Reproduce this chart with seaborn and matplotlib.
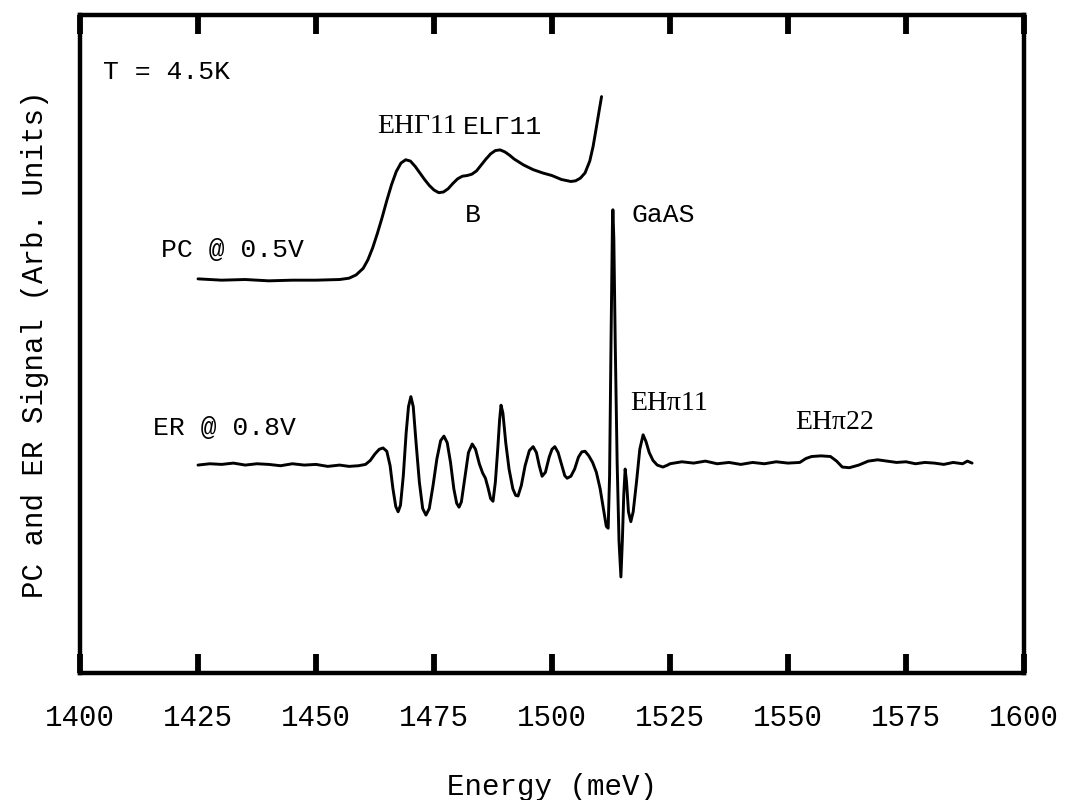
import matplotlib
matplotlib.use("Agg")
import matplotlib.pyplot as plt
import seaborn as sns
import pandas as pd

# ---------------- data ----------------
pc_energy = [1425, 1430, 1435, 1440, 1445, 1450, 1455, 1457, 1458.5, 1460, 1461,
             1462, 1463, 1464, 1465, 1466, 1467, 1468, 1469, 1470, 1471, 1472,
             1473, 1474, 1475, 1476, 1477, 1478, 1479, 1480, 1481, 1482, 1483,
             1484, 1485, 1486, 1487, 1488, 1489, 1490, 1491, 1492, 1494, 1496,
             1498, 1500, 1502, 1504, 1505, 1506, 1507, 1508, 1508.7, 1509.3,
             1510, 1510.5]
pc_signal = [59.9, 59.7, 59.8, 59.6, 59.7, 59.7, 59.8, 60.0, 60.5, 61.5, 62.8,
             64.6, 66.8, 69.2, 71.8, 74.2, 76.2, 77.5, 78.0, 77.8, 77.0, 76.0,
             75.0, 74.1, 73.4, 73.0, 73.1, 73.6, 74.4, 75.1, 75.5, 75.6, 75.8,
             76.3, 77.2, 78.1, 78.9, 79.4, 79.5, 79.2, 78.7, 78.1, 77.2, 76.5,
             76.0, 75.6, 75.0, 74.7, 74.8, 75.2, 76.0, 77.8, 80.0, 82.5,
             85.5, 87.6]

er_energy = [1425, 1427.5, 1430, 1432.5, 1435, 1437.5, 1440, 1442.5, 1445, 1447.5,
             1450, 1452.5, 1455, 1457, 1459, 1460.5, 1461.5, 1462.5, 1463.4, 1464.2,
             1465.0, 1465.7, 1466.3, 1466.9, 1467.4, 1467.9, 1468.5, 1469.1, 1469.6,
             1470.1, 1470.6, 1471.2, 1471.9, 1472.6, 1473.3, 1474.0, 1474.8, 1475.6,
             1476.4, 1477.1, 1477.8, 1478.5, 1479.2, 1479.8, 1480.3, 1480.8, 1481.5,
             1482.3, 1483.1, 1483.8, 1484.6, 1485.3, 1485.9, 1486.5, 1487.0, 1487.5,
             1488.0, 1488.5, 1488.9, 1489.2, 1489.6, 1490.2, 1490.9, 1491.7, 1492.3,
             1492.8, 1493.5, 1494.3, 1495.2, 1496.0, 1496.7, 1497.3, 1497.9, 1498.6,
             1499.4, 1500.0, 1500.6, 1501.3, 1502.1, 1502.7, 1503.2, 1504.0, 1504.8,
             1505.6, 1506.3, 1507.0, 1507.8, 1508.6, 1509.4, 1510.2, 1511.0, 1511.5,
             1511.9, 1512.2, 1512.5, 1512.8, 1512.9, 1513.1, 1513.4, 1513.8, 1514.2,
             1514.6, 1514.9, 1515.2, 1515.5, 1515.8, 1516.2, 1516.7, 1517.2, 1517.9,
             1518.6, 1519.3, 1519.9, 1520.6, 1521.4, 1522.3, 1523.5, 1524.5, 1525,
             1527.5, 1530, 1532.5, 1535, 1537.5, 1540, 1542.5, 1545, 1547.5, 1550,
             1552.5, 1553.8, 1555, 1557, 1559, 1560.3, 1561.5, 1563, 1565, 1567,
             1569, 1571, 1573, 1575, 1577, 1579, 1581, 1583, 1585, 1587, 1588, 1589]
er_signal = [31.6, 31.8, 31.7, 31.9, 31.6, 31.8, 31.7, 31.5, 31.8, 31.6,
             31.7, 31.4, 31.6, 31.4, 31.5, 31.7, 32.3, 33.3, 34.0, 34.2,
             33.7, 31.5, 28.0, 25.3, 24.5, 25.5, 30.0, 36.5, 40.5,
             42.0, 40.5, 35.0, 29.0, 25.0, 24.0, 25.0, 28.5, 32.5,
             35.3, 36.0, 35.0, 32.0, 28.0, 25.8, 25.2, 26.0, 29.5,
             33.5, 34.8, 34.0, 31.8, 30.4, 29.6, 28.0, 26.5, 26.1,
             29.0, 34.0, 38.5, 40.7, 39.5, 35.0, 31.0, 28.0, 27.0,
             26.9, 28.5, 31.5, 33.8, 34.4, 33.5, 31.5, 29.9, 30.5,
             32.8, 34.0, 34.4, 33.5, 31.5, 30.0, 29.6, 29.9, 31.0,
             32.8, 33.6, 33.7, 33.0, 32.0, 30.5, 28.0, 24.5, 22.3,
             22.0, 30.0, 50.0, 68.0, 70.4, 66.0, 50.0, 32.0, 20.0,
             14.6, 20.0, 27.0, 31.0, 29.0, 24.5, 23.0, 24.5, 29.0,
             34.0, 36.2, 35.2, 33.5, 32.3, 31.6, 31.3, 31.6, 31.8,
             32.1, 31.9, 32.2, 31.8, 32.0, 31.7, 32.0, 31.8, 32.1, 31.9,
             32.0, 32.6, 32.9, 33.0, 32.9, 32.2, 31.3, 31.2, 31.6, 32.2,
             32.4, 32.2, 32.0, 32.1, 31.8, 32.0, 31.9, 31.7, 32.0, 31.8, 32.2, 31.9]

x_ticks = [1400, 1425, 1450, 1475, 1500, 1525, 1550, 1575, 1600]

annotations = [
    ("T = 4.5K", 1404.9, 91.4, "mono", "left"),
    ("PC @ 0.5V", 1417.2, 64.3, "mono", "left"),
    ("ER @ 0.8V", 1415.5, 37.2, "mono", "left"),
    ("EH\u039311", 1462.9, 83.0, "serif", "left"),
    ("EL\u039311", 1481.1, 83.0, "mono", "left"),
    ("B", 1483.3, 69.6, "mono", "center"),
    ("GaAS", 1516.9, 69.6, "mono", "left"),
    ("EH\u03c011", 1516.5, 41.0, "serif", "left"),
    ("EH\u03c022", 1551.5, 38.0, "serif", "left"),
]

# ---------------- plot ----------------
sns.set_theme(style="white")
plt.rcParams["font.family"] = ["Liberation Mono", "DejaVu Sans Mono", "DejaVu Sans"]

fig = plt.figure(figsize=(10.73, 8.0), dpi=100)
ax = fig.add_axes([80 / 1073, 1 - 673 / 800, (1024 - 80) / 1073, (673 - 15) / 800])

pc_df = pd.DataFrame({"Energy": pc_energy, "Signal": pc_signal})
er_df = pd.DataFrame({"Energy": er_energy, "Signal": er_signal})
sns.lineplot(data=pc_df, x="Energy", y="Signal", ax=ax, color="black",
             linewidth=2.1, sort=False, estimator=None)
sns.lineplot(data=er_df, x="Energy", y="Signal", ax=ax, color="black",
             linewidth=2.1, sort=False, estimator=None)

ax.set_xlim(1400, 1600)
ax.set_ylim(0, 100)
ax.set_xticks(x_ticks)
ax.set_xticklabels([str(t) for t in x_ticks])
ax.set_yticks([])

ax.tick_params(axis="x", which="both", direction="in", length=14, width=4.2,
               top=True, bottom=True, labelsize=21, pad=22, color="black",
               labelcolor="black")
for s in ax.spines.values():
    s.set_visible(True)
    s.set_color("black")
    s.set_linewidth(3.2)

ax.set_xlabel("Energy (meV)", fontsize=21, labelpad=30, color="black")
ax.set_ylabel("PC and ER Signal (Arb. Units)", fontsize=21, labelpad=22,
              color="black")

mono = ["Liberation Mono", "DejaVu Sans Mono"]
serif = ["Liberation Serif", "DejaVu Serif"]
for txt, xx, yy, fam, ha in annotations:
    ax.text(xx, yy, txt, ha=ha, va="center",
            family=mono if fam == "mono" else serif,
            fontsize=19 if fam == "mono" else 20, color="black")

fig.savefig("out.png", dpi=100, facecolor="white")
